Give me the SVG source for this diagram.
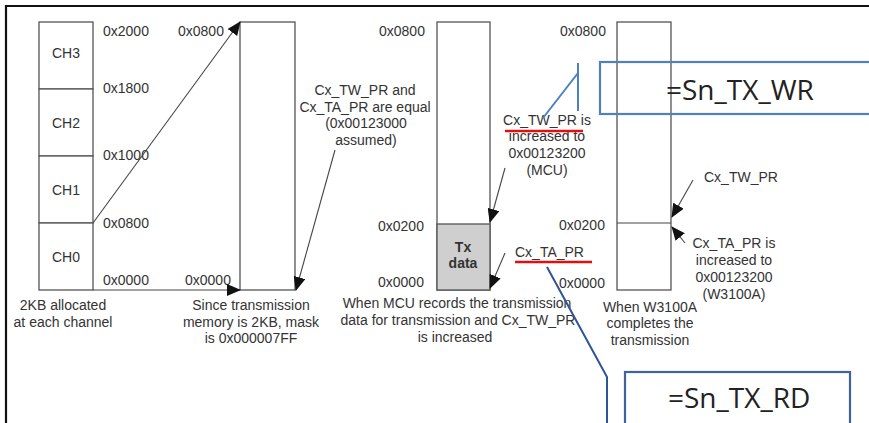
<svg xmlns="http://www.w3.org/2000/svg" width="869" height="423" viewBox="0 0 869 423">
<style>
.t{font-family:"Liberation Sans",Arial,sans-serif;font-size:14px;fill:#333}
.c{text-anchor:middle}
.box{fill:#fff;stroke:#555;stroke-width:1.3}
.ln{stroke:#444;stroke-width:1.1;fill:none}
.big{font-family:"Open Sans","Noto Sans",sans-serif;font-size:28px;fill:#222}
.red{stroke:#e01010;stroke-width:2.5}
</style>
<defs>
<marker id="ah" markerUnits="userSpaceOnUse" markerWidth="14" markerHeight="12" viewBox="0 0 14 12" refX="13" refY="6" orient="auto">
<path d="M0,0 L14,6 L0,12 z" fill="#111"/>
</marker>
</defs>
<rect width="869" height="423" fill="#fff"/>
<g id="frame">
<line x1="5" y1="6" x2="869" y2="6" stroke="#111" stroke-width="2.2"/>
<line x1="6" y1="5" x2="6" y2="423" stroke="#111" stroke-width="2.2"/>
</g>
<g id="channels">
<rect class="box" x="39" y="22" width="54" height="67"/>
<rect class="box" x="39" y="89" width="54" height="67"/>
<rect class="box" x="39" y="156" width="54" height="67"/>
<rect class="box" x="39" y="223" width="54" height="67"/>
<text class="t c" x="66" y="58">CH3</text>
<text class="t c" x="66" y="128">CH2</text>
<text class="t c" x="66" y="195">CH1</text>
<text class="t c" x="66" y="262">CH0</text>
<text class="t" x="103" y="36">0x2000</text>
<text class="t" x="103" y="93">0x1800</text>
<text class="t" x="103" y="160">0x1000</text>
<text class="t" x="103" y="228">0x0800</text>
<text class="t" x="103" y="285">0x0000</text>
<text class="t c" x="63" y="310">2KB allocated</text>
<text class="t c" x="63" y="327">at each channel</text>
</g>
<g id="mask-box">
<rect class="box" x="240" y="22" width="55" height="268"/>
<text class="t" x="178" y="36">0x0800</text>
<text class="t" x="185" y="285">0x0000</text>
<text class="t c" x="251" y="310">Since transmission</text>
<text class="t c" x="251" y="327">memory is 2KB, mask</text>
<text class="t c" x="251" y="343">is 0x000007FF</text>
<text class="t c" x="365" y="95">Cx_TW_PR and</text>
<text class="t c" x="365" y="112">Cx_TA_PR are equal</text>
<text class="t c" x="366" y="128">(0x00123000</text>
<text class="t c" x="366" y="145">assumed)</text>
</g>
<g id="mcu-box">
<rect class="box" x="437" y="22" width="53" height="268"/>
<rect x="437" y="224" width="53" height="66" fill="#cfcfcf" stroke="#555" stroke-width="1.3"/>
<text class="t c" x="463" y="252" style="font-weight:bold">Tx</text>
<text class="t c" x="463" y="268" style="font-weight:bold">data</text>
<text class="t" x="379" y="36">0x0800</text>
<text class="t" x="378" y="231">0x0200</text>
<text class="t" x="378" y="287">0x0000</text>
<text class="t c" x="547" y="125">Cx_TW_PR is</text>
<text class="t c" x="547" y="141">increased to</text>
<text class="t c" x="547" y="158">0x00123200</text>
<text class="t c" x="547" y="175">(MCU)</text>
<text class="t" x="515" y="257">Cx_TA_PR</text>
<text class="t c" x="457" y="308">When MCU records the transmission</text>
<text class="t c" x="458" y="325">data for transmission and Cx_TW_PR</text>
<text class="t c" x="455" y="342">is increased</text>
</g>
<g id="w3100a-box">
<rect class="box" x="617" y="22" width="54" height="268"/>
<line class="ln" x1="617" y1="223" x2="671" y2="223"/>
<text class="t" x="560" y="36">0x0800</text>
<text class="t" x="559" y="230">0x0200</text>
<text class="t" x="559" y="288">0x0000</text>
<text class="t" x="704" y="182">Cx_TW_PR</text>
<text class="t c" x="734" y="248">Cx_TA_PR is</text>
<text class="t c" x="734" y="265">increased to</text>
<text class="t c" x="734" y="282">0x00123200</text>
<text class="t c" x="734" y="299">(W3100A)</text>
<text class="t c" x="650" y="312">When W3100A</text>
<text class="t c" x="650" y="328">completes the</text>
<text class="t c" x="650" y="345">transmission</text>
</g>
<g id="sn-tx-wr">
<rect x="600" y="62" width="275" height="52" fill="none" stroke="#4f81bd" stroke-width="2.2"/>
<text class="big" x="666" y="100">=Sn_TX_WR</text>
</g>
<g id="sn-tx-rd">
<rect x="625" y="372" width="225" height="60" fill="#fff" stroke="#41629a" stroke-width="2.2"/>
<text class="big" x="668" y="408">=Sn_TX_RD</text>
</g>
<g id="connectors">
<line class="ln" x1="93" y1="223" x2="240" y2="22" marker-end="url(#ah)"/>
<line class="ln" x1="93" y1="290" x2="240" y2="290" marker-end="url(#ah)"/>
<line class="ln" x1="335" y1="150" x2="296" y2="290" marker-end="url(#ah)"/>
<line class="ln" x1="505" y1="168" x2="490" y2="222" marker-end="url(#ah)"/>
<line class="ln" x1="505" y1="253" x2="490" y2="288" marker-end="url(#ah)"/>
<line class="ln" x1="693" y1="180" x2="672" y2="217" marker-end="url(#ah)"/>
<line class="ln" x1="685" y1="243" x2="672" y2="227" marker-end="url(#ah)"/>
<line class="red" x1="505" y1="131" x2="583" y2="131"/>
<line class="red" x1="515" y1="262" x2="592" y2="262"/>
<polyline points="543,118 578,73" fill="none" stroke="#4f81bd" stroke-width="2"/>
<line x1="578" y1="63" x2="578" y2="111" stroke="#4f81bd" stroke-width="2"/>
<polyline points="547,267 607,377 607,423" fill="none" stroke="#2f5597" stroke-width="2"/>
</g>
</svg>
